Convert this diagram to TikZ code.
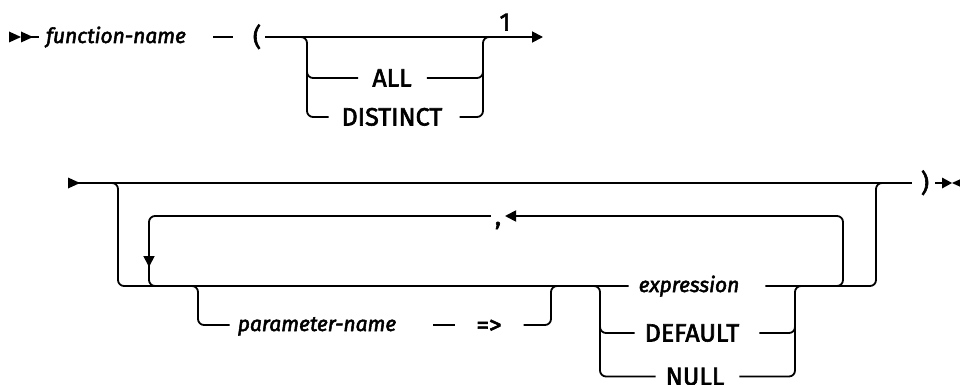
\documentclass[tikz,border=0pt]{standalone}
\usepackage{fontspec}
\setmainfont{Fira Sans}[FakeBold=2.5]
\usetikzlibrary{arrows.meta,calc}
\begin{document}
\begin{tikzpicture}[x=1pt,y=-1pt,
  rail/.style={line width=1.8pt, rounded corners=6pt},
  tri/.style={-{Triangle[length=11pt,width=11pt]}},
  txt/.style={inner sep=0pt, text height=17pt, text depth=0pt, anchor=center, font=\fontsize{25pt}{29pt}\selectfont},
  itx/.style={inner sep=0pt, text height=12pt, text depth=0pt, anchor=center, font=\fontsize{21pt}{25pt}\selectfont\itshape},
]
\useasboundingbox (0,0) rectangle (960,385);
% ---------- row 1 ----------
\node[itx] (fn) at (116,37) {function-name};
\node[txt] (lp) at (257,37) {(};
\node[txt] (all) at (392,78) {ALL};
\node[txt] (dist) at (392,117) {DISTINCT};
\node[txt] (one) at (505,22) {1};
\fill (9,31.5) -- (21,37) -- (9,42.5) -- cycle;
\fill (21,31.5) -- (33,37) -- (21,42.5) -- cycle;
\draw[rail] (30,37) -- ([xshift=-7pt]fn.west);
\draw[rail] (213,37) -- (233,37);
\draw[rail,tri] ([xshift=4pt]lp.east) -- (543,37);
\draw[rail] (296,37) -| (307,117) -- ([xshift=-13pt]dist.west);
\draw[rail] (307,70) |- ([xshift=-14pt]all.west);
\draw[rail] ([xshift=15pt]all.east) -| (483,70);
\draw[rail] ([xshift=17pt]dist.east) -| (483,37) -- (493,37);
% ---------- row 2 ----------
\node[txt, anchor=base, text height=, text depth=] (comma) at (498,225) {,};
\node[txt] (rp) at (925,183) {)};
\node[itx] (pn) at (317,325) {parameter-name};
\node[txt] (arr) at (489,325) {=>};
\node[itx] (expr) at (689,286) {expression};
\node[txt] (def) at (692,333) {DEFAULT};
\node[txt] (nul) at (695,376.5) {NULL};
\fill (68,177.5) -- (80,183) -- (68,188.5) -- cycle;
\draw[rail] (78,183) -- ([xshift=-9pt]rp.west);
\draw[rail] ([xshift=6pt]rp.east) -- (943,183);
\fill (942,177.5) -- (952,183) -- (942,188.5) -- cycle;
\fill (964,177.5) -- (952,183) -- (964,188.5) -- cycle;
% outer bypass / main lower line
\draw[rail] (108,183) -| (118,286) -- ([xshift=-10pt]expr.west);
% repeat loop
\draw[rail,tri] (833,286) -| (843,216) -- (505,216);
\draw[rail] (491,216) -- (160,216);
\draw[rail,tri] (170,216) -| (149,267);
\draw[rail] (149,262) |- (167,286);
% right side
\draw[rail] ([xshift=26pt]expr.east) -| (876,183) -- (886,183);
% parameter-name branch
\draw[rail] (188,286) -| (198,325) -- ([xshift=-8pt]pn.west);
\draw[rail] (433,325) -- (455,325);
\draw[rail] ([xshift=22pt]arr.east) -| (551,286) -- (561,286);
% choice
\draw[rail] (590,286) -| (600,376.5) -- ([xshift=-10pt]nul.west);
\draw[rail] (600,325) |- ([xshift=-10pt]def.west);
\draw[rail] ([xshift=15pt]nul.east) -| (795,286) -- (805,286);
\draw[rail] ([xshift=20pt]def.east) -| (795,325);
\end{tikzpicture}
\end{document}
